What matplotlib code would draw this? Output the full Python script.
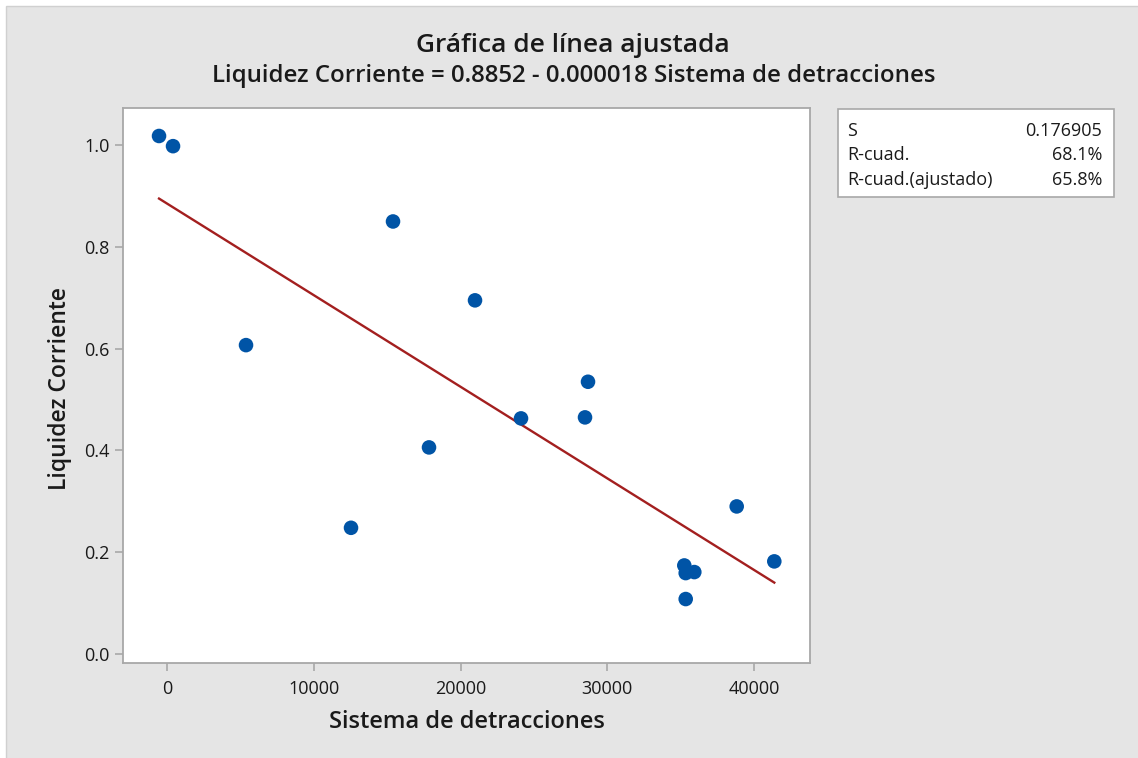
import numpy as np
import matplotlib
matplotlib.use('Agg')
from matplotlib import pyplot as plt
from matplotlib.patches import Rectangle

plt.rcParams['font.family'] = ['Open Sans', 'DejaVu Sans']

# data
detracciones = [-545, 409, 5383, 12538, 15400, 17853, 20988, 24123, 28484, 28688,
                35250, 35346, 35932, 35346, 38821, 41383]
liquidez = [1.018, 0.998, 0.607, 0.248, 0.850, 0.406, 0.695, 0.463, 0.465, 0.535,
            0.174, 0.159, 0.161, 0.108, 0.290, 0.182]
intercepto = 0.8852
pendiente = -0.000018
stats_labels = ['S', 'R-cuad.', 'R-cuad.(ajustado)']
stats_values = ['0.176905', '68.1%', '65.8%']
x_ticks = [0, 10000, 20000, 30000, 40000]
y_ticks = [0.0, 0.2, 0.4, 0.6, 0.8, 1.0]

W, H = 1138, 758
fig = plt.figure(figsize=(W / 100, H / 100), dpi=100, facecolor='white')

# gray panel behind everything (runs off the right and bottom edges)
fig.patches.append(Rectangle((6 / W, -0.02), 1.02, 1.02 - 6 / H, transform=fig.transFigure,
                             facecolor='#e5e5e5', edgecolor='#d0d0d0', lw=1, zorder=-10))

ax = fig.add_axes([123 / W, 1 - 663 / H, (810 - 123) / W, (663 - 108) / H])
ax.set_facecolor('white')

xs = np.array([min(detracciones), max(detracciones)])
ax.plot(xs, intercepto + pendiente * xs, color='#a31f1f', lw=1.7, zorder=2)
ax.scatter(detracciones, liquidez, s=110, color='#0054a6', edgecolors='none', zorder=3)

ax.set_xlim(-3000, 43816)
ax.set_ylim(-0.0177, 1.073)
ax.set_xticks(x_ticks)
ax.set_yticks(y_ticks)
ax.set_yticklabels(['%.1f' % v for v in y_ticks])
for s in ax.spines.values():
    s.set_color('#a8a8a8')
    s.set_linewidth(1.3)
ax.tick_params(colors='#a8a8a8', labelcolor='#1a1a1a', labelsize=13, length=6, width=1.2)
ax.tick_params(axis='x', pad=6)

fig.text(467 / W, 1 - 722 / H, 'Sistema de detracciones', ha='center', va='center',
         fontsize=17, fontweight='semibold', color='#1a1a1a')
fig.text(60 / W, 1 - 388 / H, 'Liquidez Corriente', ha='center', va='center',
         rotation=90, fontsize=16.5, fontweight='semibold', color='#1a1a1a')

fig.text(573 / W, 1 - 45 / H, 'Gráfica de línea ajustada', ha='center', va='center',
         fontsize=19, fontweight='semibold', color='#1a1a1a')
fig.text(574 / W, 1 - 76 / H, 'Liquidez Corriente = 0.8852 - 0.000018 Sistema de detracciones',
         ha='center', va='center', fontsize=17.3, fontweight='semibold', color='#1a1a1a')

# stats box
fig.patches.append(Rectangle((838 / W, 1 - 197 / H), (1114 - 838) / W, (197 - 109) / H,
                             transform=fig.transFigure, facecolor='white',
                             edgecolor='#a8a8a8', lw=1.2))
for i, (lab, val) in enumerate(zip(stats_labels, stats_values)):
    y = 1 - (131 + 24.5 * i) / H
    fig.text(847 / W, y, lab, ha='left', va='center', fontsize=13, color='#1a1a1a')
    fig.text(1102 / W, y, val, ha='right', va='center', fontsize=13, color='#1a1a1a')

fig.savefig('out.png', dpi=100, facecolor=fig.get_facecolor())
